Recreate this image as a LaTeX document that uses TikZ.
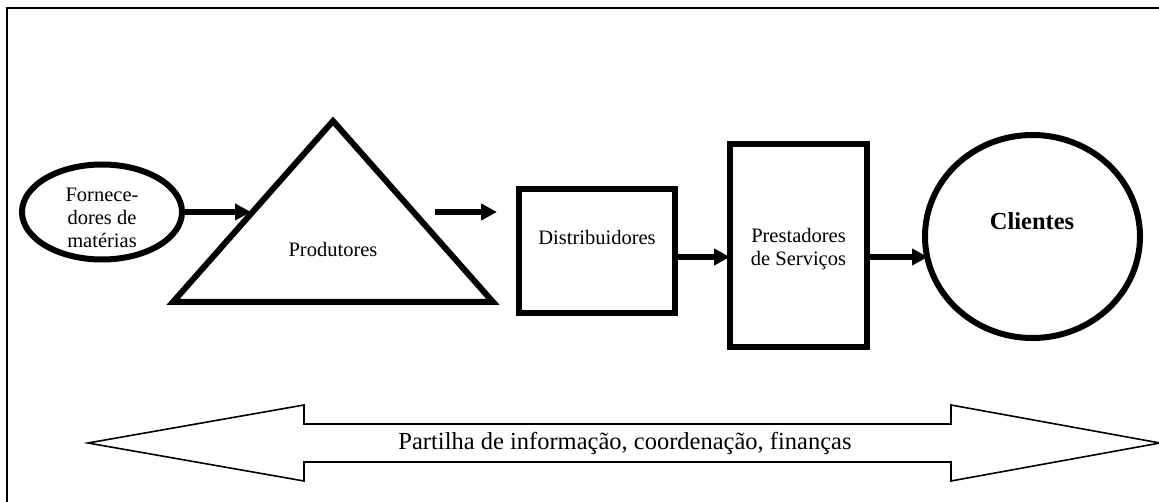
\documentclass[tikz,border=0pt]{standalone}
\usepackage{fontspec}
\setmainfont{Liberation Serif}
\usetikzlibrary{arrows.meta,shapes.geometric}
\tikzset{
  heavy/.style={draw=black, line width=6pt},
  boxshape/.style={heavy, rectangle, inner sep=0pt},
  ovalshape/.style={heavy, ellipse, inner sep=0pt},
  flow/.style={line width=5.5pt, -{Triangle[length=16pt,width=16pt]}},
  lbl/.style={font=\fontsize{20.5}{23}\selectfont, align=center, inner sep=0pt},
  band/.style={draw=black, line width=1.6pt, line join=miter},
}
\begin{document}
\begin{tikzpicture}[x=1pt,y=-1pt]
\useasboundingbox (0,0) rectangle (1159,502);
% frame
\coordinate (fbl) at (7,502);
\coordinate (ftl) at (7,8);
\coordinate (ftr) at (1159,8);
\draw[line width=2.2pt] (fbl) -- (ftl) -- (ftr);

% suppliers
\node[ovalshape, minimum width=160pt, minimum height=95pt] (forn) at (102,212) {};
\node[lbl] (fornt) at (102,218) {Fornece-\\dores de\\matérias};

% producers triangle
\coordinate (tA) at (333,121);
\coordinate (tL) at (173,302);
\coordinate (tR) at (493,302);
\draw[heavy, line join=miter] (tA) -- (tL) -- (tR) -- cycle;
\node[lbl] (prod) at (333,249) {Produtores};
\coordinate (tin) at (251,212);

% distributors
\node[boxshape, minimum width=156pt, minimum height=124pt] (dist) at (597,251) {};
\node[lbl] (distt) at (597,237) {Distribuidores};

% service providers
\node[boxshape, minimum width=137pt, minimum height=203pt] (prest) at (798.5,245.5) {};
\node[lbl] (prestt) at (798.5,249) {Prestadores\\de Serviços};

% clients
\node[ovalshape, minimum width=215pt, minimum height=203pt] (cli) at (1032.5,236.5) {};
\node[font=\fontsize{24.5}{28}\selectfont\bfseries, inner sep=0pt] (clit) at (1032,221) {Clientes};

% arrows
\coordinate (a2s) at (435,212);
\coordinate (a2e) at (497,212);
\coordinate (a3s) at (675,257);
\coordinate (a3e) at (730,257);
\coordinate (a4s) at (867,257);
\coordinate (a4e) at (928,257);
\draw[flow] (forn.east) -- (tin);
\draw[flow] (a2s) -- (a2e);
\draw[flow] (a3s) -- (a3e);
\draw[flow] (a4s) -- (a4e);

% information sharing double arrow
\coordinate (dL) at (88,443);
\coordinate (dR) at (1160,443);
\draw[band] (dL) -- (304,405) -- (304,424) -- (951,424) -- (951,405) -- (dR)
  -- (951,481) -- (951,462) -- (304,462) -- (304,481) -- cycle;
\node[font=\fontsize{24.5}{28}\selectfont, inner sep=0pt] (share) at (625,443) {Partilha de informação, coordenação, finanças};
\end{tikzpicture}
\end{document}
